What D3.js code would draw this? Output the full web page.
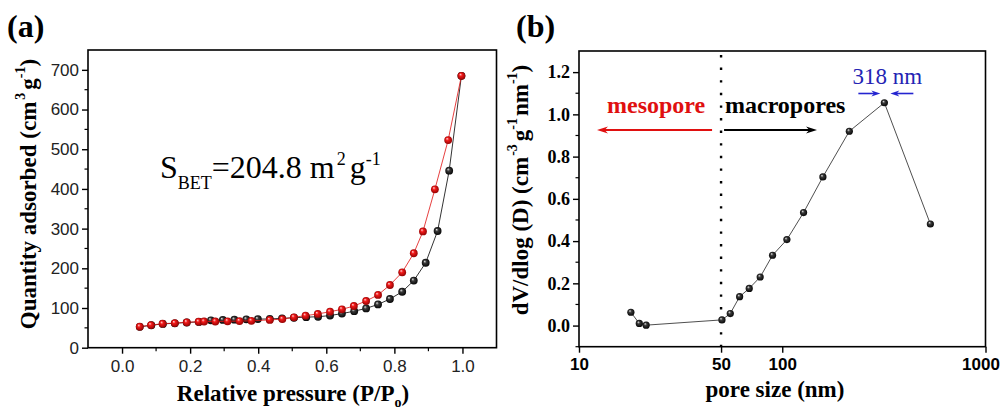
<!DOCTYPE html>
<html>
<head>
<meta charset="utf-8">
<script src="https://cdn.jsdelivr.net/npm/d3@7"></script>
<style>
  html, body { margin: 0; padding: 0; background: #fff; }
  svg { display: block; }
  .serif { font-family: "Liberation Serif", "Times New Roman", serif; }
  .sans { font-family: "Liberation Sans", Arial, sans-serif; }
</style>
</head>
<body>
<svg id="chart" width="1003" height="412"></svg>
<script>
// (a) N2 adsorption / desorption isotherm
const adsP = [0.052,0.086,0.120,0.155,0.190,0.226,0.261,0.296,0.330,0.365,0.399,0.434,0.470,0.505,0.541,0.576,0.611,0.646,0.682,0.717,0.752,0.787,0.823,0.857,0.892,0.927,0.961,0.997];
const adsQ = [52.5,56.5,60,61.5,63.5,65,69,70,70.6,71.4,72,72.5,74,75.5,77,78,81,86,92,99,109,122.7,141,169,214,294,446,685];
const desP = [0.052,0.085,0.119,0.155,0.190,0.225,0.241,0.274,0.310,0.345,0.380,0.434,0.471,0.505,0.539,0.575,0.611,0.646,0.681,0.717,0.752,0.787,0.823,0.857,0.884,0.919,0.958,0.997];
const desQ = [53,57,60.5,62,64,65.5,66,66,66.5,67,67.7,70,72,76.6,80.7,85,90.7,96.7,105,117.7,133,158,190,238,293,399,523,685];
const pTicks = [0.0,0.2,0.4,0.6,0.8,1.0];
const qTicks = [0,100,200,300,400,500,600,700];

// (b) pore size distribution
const poreD = [18.0,19.8,21.4,50.5,55.5,61.7,68.8,77.9,89.6,105.4,127.3,158.5,213.8,318,535.5];
const poreV = [0.063,0.010,0.002,0.027,0.057,0.137,0.176,0.230,0.333,0.407,0.535,0.704,0.920,1.055,0.481];
const dTicks = [10,50,100,1000];
const vTicks = [0.0,0.2,0.4,0.6,0.8,1.0,1.2];
const poreBoundary = 50;
const peakSize = 318;

const svg = d3.select("#chart");
const defs = svg.append("defs");

function sphere(id, hi, mid, dark) {
  const g = defs.append("radialGradient").attr("id", id)
    .attr("cx", "50%").attr("cy", "50%").attr("r", "55%")
    .attr("fx", "35%").attr("fy", "30%");
  g.append("stop").attr("offset", "0%").attr("stop-color", hi);
  g.append("stop").attr("offset", "35%").attr("stop-color", mid);
  g.append("stop").attr("offset", "100%").attr("stop-color", dark);
}
sphere("ballBlack", "#e8e8e8", "#3a3a3a", "#000");
sphere("ballRed", "#ffd8d8", "#f21a1a", "#8a0000");

function frame(g, x0, x1, y0, y1) {
  g.append("rect").attr("x", x0).attr("y", y0)
    .attr("width", x1 - x0).attr("height", y1 - y0)
    .attr("fill", "none").attr("stroke", "#000").attr("stroke-width", 1.6);
}

function arrow(g, xFrom, xTo, y, color, width, headLen, headHalf) {
  const dir = Math.sign(xTo - xFrom);
  g.append("line").attr("x1", xFrom).attr("x2", xTo - dir * headLen * 0.6)
    .attr("y1", y).attr("y2", y).attr("stroke", color).attr("stroke-width", width);
  g.append("path")
    .attr("d", `M${xTo},${y} L${xTo - dir * headLen},${y - headHalf} L${xTo - dir * headLen * 0.7},${y} L${xTo - dir * headLen},${y + headHalf} Z`)
    .attr("fill", color);
}

/* ---------------- panel (a) ---------------- */
{
  const x = d3.scaleLinear().domain([-0.1, 1.1]).range([88, 496.5]);
  const y = d3.scaleLinear().domain([0, 750]).range([347.7, 50]);
  const g = svg.append("g");

  // minor ticks
  const xMinor = [0.1,0.3,0.5,0.7,0.9];
  const yMinor = [50,150,250,350,450,550,650];
  g.selectAll(".xm").data(xMinor).join("line")
    .attr("x1", d => x(d)).attr("x2", d => x(d))
    .attr("y1", y(0)).attr("y2", y(0) + 3.5).attr("stroke", "#000").attr("stroke-width", 1.2);
  g.selectAll(".ym").data(yMinor).join("line")
    .attr("y1", d => y(d)).attr("y2", d => y(d))
    .attr("x1", x(-0.1)).attr("x2", x(-0.1) - 3.5).attr("stroke", "#000").attr("stroke-width", 1.2);

  const xAxis = d3.axisBottom(x).tickValues(pTicks).tickFormat(d3.format(".1f")).tickSize(6).tickPadding(6);
  const yAxis = d3.axisLeft(y).tickValues(qTicks).tickFormat(d3.format("d")).tickSize(6).tickPadding(3);
  const xa = g.append("g").attr("transform", `translate(0,${y(0)})`).call(xAxis);
  const ya = g.append("g").attr("transform", `translate(${x(-0.1)},0)`).call(yAxis);
  [xa, ya].forEach(a => {
    a.select(".domain").remove();
    a.selectAll(".tick line").attr("stroke", "#000").attr("stroke-width", 1.4);
    a.selectAll(".tick text").attr("class", "sans").attr("font-size", 17).attr("fill", "#222");
  });

  frame(g, x(-0.1), x(1.1), y(750), y(0));

  const line = d3.line().x(d => x(d[0])).y(d => y(d[1]));
  const ads = adsP.map((p, i) => [p, adsQ[i]]);
  const des = desP.map((p, i) => [p, desQ[i]]);
  g.append("path").datum(ads).attr("d", line).attr("fill", "none").attr("stroke", "#000").attr("stroke-width", 0.8);
  g.selectAll(".ads").data(ads).join("circle")
    .attr("cx", d => x(d[0])).attr("cy", d => y(d[1])).attr("r", 3.9).attr("fill", "url(#ballBlack)");
  g.append("path").datum(des).attr("d", line).attr("fill", "none").attr("stroke", "#e01010").attr("stroke-width", 0.8);
  g.selectAll(".des").data(des).join("circle")
    .attr("cx", d => x(d[0])).attr("cy", d => y(d[1])).attr("r", 3.9).attr("fill", "url(#ballRed)");

  // BET surface area
  const t = g.append("text").attr("class", "serif").attr("x", 160).attr("y", 178).attr("font-size", 32).attr("fill", "#000");
  t.append("tspan").text("S");
  t.append("tspan").attr("font-size", 18).attr("dy", 11).text("BET");
  t.append("tspan").attr("dy", -11).text("=204.8 m");
  t.append("tspan").attr("font-size", 18).attr("dy", -13).attr("dx", 2).text("2");
  t.append("tspan").attr("dy", 13).attr("dx", 4).text("g");
  t.append("tspan").attr("font-size", 18).attr("dy", -13).text("-1");

  // axis titles
  const xt = g.append("text").attr("class", "serif").attr("font-weight", "bold").attr("font-size", 23)
    .attr("x", 293).attr("y", 401).attr("text-anchor", "middle");
  xt.append("tspan").text("Relative pressure (P/P");
  xt.append("tspan").attr("font-size", 14).attr("dy", 6).text("o");
  xt.append("tspan").attr("dy", -6).text(")");

  const yt = g.append("text").attr("class", "serif").attr("font-weight", "bold").attr("font-size", 23)
    .attr("transform", "translate(36,194) rotate(-90)").attr("text-anchor", "middle");
  yt.append("tspan").text("Quantity adsorbed (cm");
  yt.append("tspan").attr("font-size", 14).attr("dy", -11).attr("dx", 2).text("3");
  yt.append("tspan").attr("dy", 11).attr("dx", 3).text("g");
  yt.append("tspan").attr("font-size", 14).attr("dy", -11).text("-1");
  yt.append("tspan").attr("dy", 11).text(")");

  g.append("text").attr("class", "serif").attr("font-weight", "bold").attr("font-size", 32)
    .attr("x", 7).attr("y", 37).text("(a)");
}

/* ---------------- panel (b) ---------------- */
{
  const x = d3.scaleLog().domain([10, 1000]).range([579, 985.5]);
  const y = d3.scaleLinear().domain([-0.1, 1.3]).range([346.7, 51]);
  const g = svg.append("g");

  const yMinor = [-0.1,0.1,0.3,0.5,0.7,0.9,1.1];
  g.selectAll(".ym").data(yMinor).join("line")
    .attr("y1", d => y(d)).attr("y2", d => y(d))
    .attr("x1", x(10)).attr("x2", x(10) - 3.5).attr("stroke", "#000").attr("stroke-width", 1.2);

  const xAxis = d3.axisBottom(x).tickValues(dTicks).tickFormat(d3.format("d")).tickSize(6).tickPadding(5);
  const yAxis = d3.axisLeft(y).tickValues(vTicks).tickFormat(d3.format(".1f")).tickSize(6).tickPadding(3);
  const xa = g.append("g").attr("transform", `translate(0,${y(-0.1)})`).call(xAxis);
  const ya = g.append("g").attr("transform", `translate(${x(10)},0)`).call(yAxis);
  [xa, ya].forEach(a => {
    a.select(".domain").remove();
    a.selectAll(".tick line").attr("stroke", "#000").attr("stroke-width", 1.4);
  });
  xa.selectAll(".tick text").attr("class", "sans").attr("font-weight", "bold").attr("font-size", 17).attr("fill", "#000")
    .attr("dx", d => d === 1000 ? -5 : 0);
  ya.selectAll(".tick text").attr("class", "serif").attr("font-weight", "bold").attr("font-size", 18).attr("fill", "#000");

  frame(g, x(10), x(1000), y(1.3), y(-0.1));

  // meso / macro boundary
  g.append("line").attr("x1", x(poreBoundary)).attr("x2", x(poreBoundary))
    .attr("y1", y(1.3) + 4).attr("y2", y(-0.1))
    .attr("stroke", "#000").attr("stroke-width", 2.4).attr("stroke-dasharray", "2.4 10.2");

  const pts = poreD.map((d, i) => [d, poreV[i]]);
  const line = d3.line().x(d => x(d[0])).y(d => y(d[1]));
  g.append("path").datum(pts).attr("d", line).attr("fill", "none").attr("stroke", "#222").attr("stroke-width", 0.8);
  g.selectAll(".pt").data(pts).join("circle")
    .attr("cx", d => x(d[0])).attr("cy", d => y(d[1])).attr("r", 3.6).attr("fill", "url(#ballBlack)");

  // region labels and arrows
  g.append("text").attr("class", "serif").attr("font-weight", "bold").attr("font-size", 24)
    .attr("fill", "#e01010").attr("x", 607).attr("y", 113).text("mesopore");
  g.append("text").attr("class", "serif").attr("font-weight", "bold").attr("font-size", 24)
    .attr("fill", "#000").attr("x", 725).attr("y", 113).text("macropores");
  arrow(g, x(poreBoundary) - 9, 597, 130, "#e01010", 1.8, 11, 3.5);
  arrow(g, x(poreBoundary) + 3, 817, 130, "#000", 1.8, 11, 3.5);

  // peak position
  const px = x(peakSize);
  g.append("text").attr("class", "serif").attr("font-size", 23).attr("fill", "#2424b4")
    .attr("x", px + 3).attr("y", 83.5).attr("text-anchor", "middle").text("318 nm");
  arrow(g, px - 26, px - 4, 93.5, "#2424d0", 1.6, 9, 3);
  arrow(g, px + 29, px + 6, 93.5, "#2424d0", 1.6, 9, 3);

  // axis titles
  g.append("text").attr("class", "serif").attr("font-weight", "bold").attr("font-size", 23)
    .attr("x", 775).attr("y", 397).attr("text-anchor", "middle").text("pore size (nm)");

  const yt = g.append("text").attr("class", "serif").attr("font-weight", "bold").attr("font-size", 23)
    .attr("transform", "translate(528,190) rotate(-90)").attr("text-anchor", "middle");
  yt.append("tspan").text("dV/dlog (D) (cm");
  yt.append("tspan").attr("font-size", 14).attr("dy", -11).attr("dx", 1).text("-3");
  yt.append("tspan").attr("dy", 11).attr("dx", 3).text("g");
  yt.append("tspan").attr("font-size", 14).attr("dy", -11).text("-1");
  yt.append("tspan").attr("dy", 11).attr("dx", 2).text("nm");
  yt.append("tspan").attr("font-size", 14).attr("dy", -11).text("-1");
  yt.append("tspan").attr("dy", 11).text(")");

  g.append("text").attr("class", "serif").attr("font-weight", "bold").attr("font-size", 32)
    .attr("x", 516).attr("y", 37).text("(b)");
}
</script>
</body>
</html>
